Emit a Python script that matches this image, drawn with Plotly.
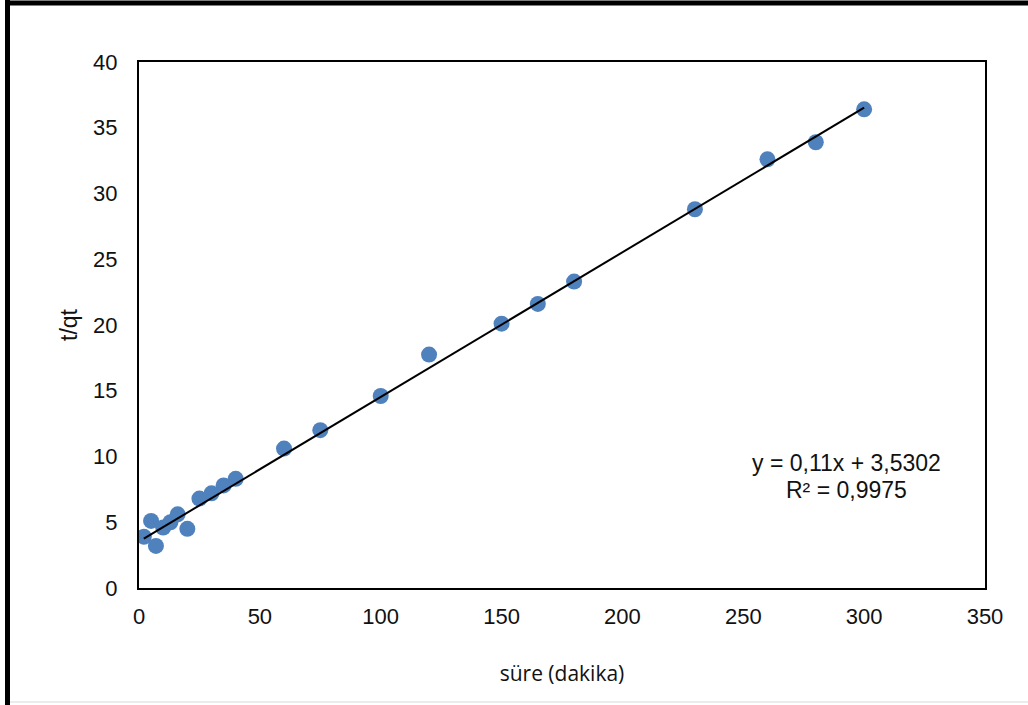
import plotly.graph_objects as go

# ---- data ----
time_min = [2, 5, 7, 10, 13, 16, 20, 25, 30, 35, 40, 60, 75, 100, 120, 150, 165, 180, 230, 260, 280, 300]
t_over_qt = [3.9, 5.1, 3.2, 4.6, 5.0, 5.6, 4.5, 6.8, 7.2, 7.8, 8.3, 10.6, 12.0, 14.6, 17.75, 20.1, 21.6, 23.3, 28.8, 32.6, 33.9, 36.4]
slope = 0.11
intercept = 3.5302
r_squared = 0.9975
x_ticks = [0, 50, 100, 150, 200, 250, 300, 350]
y_ticks = [0, 5, 10, 15, 20, 25, 30, 35, 40]

W, H = 1028, 705
ml, mr, mt, mb = 139, 43, 62, 117
pw, ph = W - ml - mr, H - mt - mb

def px(x):
    return (x - ml) / pw

def py(y):
    return (H - mb - y) / ph

fig = go.Figure()
fig.add_trace(go.Scatter(
    x=time_min, y=t_over_qt, mode="markers",
    marker=dict(color="#4F81BD", size=16, line=dict(width=0)),
    showlegend=False, hoverinfo="x+y"))

x_line = [min(time_min), max(time_min)]
y_line = [slope * v + intercept for v in x_line]
fig.add_trace(go.Scatter(
    x=x_line, y=y_line, mode="lines",
    line=dict(color="black", width=2), showlegend=False, hoverinfo="skip"))

axis_font = dict(family="Liberation Sans, Arial, sans-serif", size=22, color="#111")
fig.update_xaxes(
    range=[0, 350], tickvals=x_ticks, showgrid=False, zeroline=False,
    showline=True, linecolor="black", linewidth=2, mirror=True,
    ticks="outside", ticklen=8, tickcolor="rgba(0,0,0,0)",
    tickfont=axis_font,
    title=dict(text="süre (dakika)", standoff=38,
               font=dict(family="Open Sans, sans-serif", size=21, color="#111")))
fig.update_yaxes(
    range=[0, 40], tickvals=y_ticks, showgrid=False, zeroline=False,
    showline=True, linecolor="black", linewidth=2, mirror=True,
    ticks="outside", ticklen=15, tickcolor="rgba(0,0,0,0)",
    tickfont=axis_font,
    title=dict(text="t/qt", standoff=9,
               font=dict(family="Liberation Sans, Arial, sans-serif", size=23, color="#111")))

def fmt(v):
    return str(v).replace(".", ",")

eq_font = dict(family="Liberation Sans, Arial, sans-serif", size=23, color="#111")
fig.add_annotation(
    x=px(846), y=py(463), xref="paper", yref="paper", xanchor="center", yanchor="middle",
    text=f"y = {fmt(slope)}x + {fmt(intercept)}", showarrow=False, font=eq_font)
fig.add_annotation(
    x=px(846), y=py(490), xref="paper", yref="paper", xanchor="center", yanchor="middle",
    text=f"R² = {fmt(r_squared)}", showarrow=False, font=eq_font)

shapes = [
    dict(type="line", xref="paper", yref="paper", x0=px(5), x1=px(W + 5), y0=py(3), y1=py(3),
         line=dict(color="black", width=5)),
    dict(type="line", xref="paper", yref="paper", x0=px(7.5), x1=px(7.5), y0=py(0), y1=py(H + 5),
         line=dict(color="black", width=5)),
    dict(type="line", xref="paper", yref="paper", x0=px(10), x1=px(W + 5), y0=py(702), y1=py(702),
         line=dict(color="#d9d9d9", width=1)),
]

fig.update_layout(
    width=W, height=H, autosize=False,
    margin=dict(l=ml, r=mr, t=mt, b=mb, pad=0),
    paper_bgcolor="white", plot_bgcolor="white",
    shapes=shapes,
)

fig.write_html("out.html", config={"displayModeBar": False},
               post_script="document.body.style.margin='0';document.body.style.overflow='hidden';")
